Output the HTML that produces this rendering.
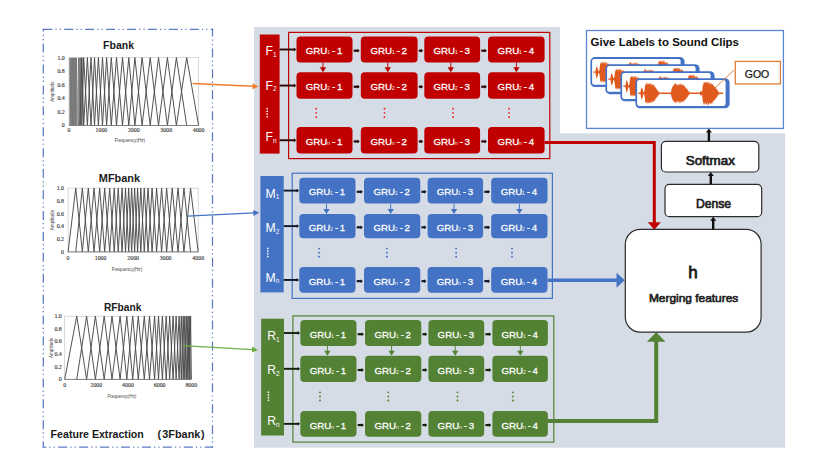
<!DOCTYPE html>
<html><head><meta charset="utf-8"><style>
html,body{margin:0;padding:0;background:#fff;}
svg{display:block;font-family:"Liberation Sans",sans-serif;}
</style></head><body>
<svg width="815" height="463" viewBox="0 0 815 463">
<defs><filter id="bl" x="-5%" y="-5%" width="110%" height="110%"><feGaussianBlur stdDeviation="0.3"/></filter><clipPath id="fbclip"><rect x="69" y="57" width="14" height="69"/></clipPath></defs>
<rect x="0" y="0" width="815" height="463" fill="#ffffff"/>
<line x1="42.7" y1="29.3" x2="213.1" y2="29.3" stroke="#5a7cc4" stroke-width="1.25" stroke-dasharray="9 3.1 1.2 3.1 1.2 3.33" stroke-dashoffset="-0.6"/>
<line x1="212.5" y1="28.7" x2="212.5" y2="447.6" stroke="#5a7cc4" stroke-width="1.25" stroke-dasharray="9 3.1 1.2 3.1 1.2 3.33" stroke-dashoffset="1.2"/>
<line x1="42.7" y1="447" x2="213.1" y2="447" stroke="#5a7cc4" stroke-width="1.25" stroke-dasharray="9 3.1 1.2 3.1 1.2 3.33" stroke-dashoffset="5.4"/>
<line x1="43.3" y1="28.7" x2="43.3" y2="447.6" stroke="#5a7cc4" stroke-width="1.25" stroke-dasharray="9 3.1 1.2 3.1 1.2 3.33" stroke-dashoffset="6.1"/>
<rect x="69.2" y="57.6" width="7.7" height="67.9" fill="#929292"/>
<rect x="78.2" y="57.6" width="3.9" height="67.9" fill="#8e8e8e"/>
<path d="M68.2 125.5L69.6 57.6L71 125.5M69.6 125.5L71 57.6L72.4 125.5M71 125.5L72.4 57.6L73.8 125.5M72.4 125.5L73.8 57.6L75.2 125.5M73.8 125.5L75.2 57.6L76.6 125.5M75.1 125.5L76.5 57.6L77.9 125.5M77 125.5L78.6 57.6L80.2 125.5M78.6 125.5L80.2 57.6L81.8 125.5M80.1 125.5L81.7 57.6L83.3 125.5" fill="none" stroke="#6a6a6a" stroke-width="0.5" filter="url(#bl)" clip-path="url(#fbclip)"/>
<text x="103.1" y="48.6" font-weight="bold" font-size="11.4" fill="#1a1a1a" textLength="30.9" lengthAdjust="spacingAndGlyphs">Fbank</text>
<rect x="69" y="57.6" width="129.6" height="67.9" fill="none" stroke="#c8c8c8" stroke-width="0.7"/>
<path d="M80 125.5L81.8 57.6L83.7 125.5M81.8 125.5L83.7 57.6L87.4 125.5M83.7 125.5L87.4 57.6L91 125.5M87.4 125.5L91 57.6L94.5 125.5M91 125.5L94.5 57.6L98.4 125.5M94.5 125.5L98.4 57.6L102.5 125.5M98.4 125.5L102.5 57.6L106.6 125.5M102.5 125.5L106.6 57.6L111.3 125.5M106.6 125.5L111.3 57.6L116.5 125.5M111.3 125.5L116.5 57.6L122.5 125.5M116.5 125.5L122.5 57.6L128.8 125.5M122.5 125.5L128.8 57.6L134.9 125.5M128.8 125.5L134.9 57.6L142.1 125.5M134.9 125.5L142.1 57.6L150.2 125.5M142.1 125.5L150.2 57.6L158.5 125.5M150.2 125.5L158.5 57.6L167.4 125.5M158.5 125.5L167.4 57.6L176.4 125.5M167.4 125.5L176.4 57.6L186.7 125.5M176.4 125.5L186.7 57.6L198.6 125.5" fill="none" stroke="#4a4a4a" stroke-width="0.95" filter="url(#bl)" stroke-linejoin="miter"/>
<line x1="69" y1="125.5" x2="198.6" y2="125.5" stroke="#777" stroke-width="0.9"/>
<text x="64.8" y="127.4" font-family="Liberation Serif" font-size="5.9" fill="#333" stroke="#333" stroke-width="0.12" text-anchor="end">0</text>
<text x="64.8" y="113.82" font-family="Liberation Serif" font-size="5.9" fill="#333" stroke="#333" stroke-width="0.12" text-anchor="end">0.2</text>
<text x="64.8" y="100.24" font-family="Liberation Serif" font-size="5.9" fill="#333" stroke="#333" stroke-width="0.12" text-anchor="end">0.4</text>
<text x="64.8" y="86.66" font-family="Liberation Serif" font-size="5.9" fill="#333" stroke="#333" stroke-width="0.12" text-anchor="end">0.6</text>
<text x="64.8" y="73.08" font-family="Liberation Serif" font-size="5.9" fill="#333" stroke="#333" stroke-width="0.12" text-anchor="end">0.8</text>
<text x="64.8" y="59.5" font-family="Liberation Serif" font-size="5.9" fill="#333" stroke="#333" stroke-width="0.12" text-anchor="end">1.0</text>
<text x="69" y="132.2" font-family="Liberation Serif" font-size="5.9" fill="#333" stroke="#333" stroke-width="0.12" text-anchor="middle">0</text>
<text x="101.4" y="132.2" font-family="Liberation Serif" font-size="5.9" fill="#333" stroke="#333" stroke-width="0.12" text-anchor="middle">1000</text>
<text x="133.8" y="132.2" font-family="Liberation Serif" font-size="5.9" fill="#333" stroke="#333" stroke-width="0.12" text-anchor="middle">2000</text>
<text x="166.2" y="132.2" font-family="Liberation Serif" font-size="5.9" fill="#333" stroke="#333" stroke-width="0.12" text-anchor="middle">3000</text>
<text x="198.6" y="132.2" font-family="Liberation Serif" font-size="5.9" fill="#333" stroke="#333" stroke-width="0.12" text-anchor="middle">4000</text>
<text x="114.7" y="141.5" font-size="4.6" fill="#444" textLength="30.4" lengthAdjust="spacingAndGlyphs">Frequency(Hz)</text>
<text transform="translate(54.1 91.55) rotate(-90)" font-size="4.6" fill="#444" text-anchor="middle">Amplitude</text>
<text x="98.8" y="181.6" font-weight="bold" font-size="11.4" fill="#1a1a1a" textLength="41.3" lengthAdjust="spacingAndGlyphs">MFbank</text>
<rect x="68.1" y="188.1" width="130.1" height="63.8" fill="none" stroke="#c8c8c8" stroke-width="0.7"/>
<path d="M68.1 251.9L75.75 188.1L82.35 251.9M75.75 251.9L82.35 188.1L88.3 251.9M82.35 251.9L88.3 188.1L94.05 251.9M88.3 251.9L94.05 188.1L99.65 251.9M94.05 251.9L99.65 188.1L104.7 251.9M99.65 251.9L104.7 188.1L109.7 251.9M104.7 251.9L109.7 188.1L114.25 251.9M109.7 251.9L114.25 188.1L118.25 251.9M114.25 251.9L118.25 188.1L122.05 251.9M118.25 251.9L122.05 188.1L125.5 251.9M122.05 251.9L125.5 188.1L128.7 251.9M125.5 251.9L128.7 188.1L131.65 251.9M128.7 251.9L131.65 188.1L134.65 251.9M131.65 251.9L134.65 188.1L137.6 251.9M134.65 251.9L137.6 188.1L140.8 251.9M137.6 251.9L140.8 188.1L144.25 251.9M140.8 251.9L144.25 188.1L148.05 251.9M144.25 251.9L148.05 188.1L152.05 251.9M148.05 251.9L152.05 188.1L156.6 251.9M152.05 251.9L156.6 188.1L161.6 251.9M156.6 251.9L161.6 188.1L166.65 251.9M161.6 251.9L166.65 188.1L172.25 251.9M166.65 251.9L172.25 188.1L178 251.9M172.25 251.9L178 188.1L183.95 251.9M178 251.9L183.95 188.1L190.55 251.9M183.95 251.9L190.55 188.1L198.2 251.9" fill="none" stroke="#4a4a4a" stroke-width="0.95" filter="url(#bl)" stroke-linejoin="miter"/>
<line x1="68.1" y1="251.9" x2="198.2" y2="251.9" stroke="#777" stroke-width="0.9"/>
<text x="64" y="253.8" font-family="Liberation Serif" font-size="5.9" fill="#333" stroke="#333" stroke-width="0.12" text-anchor="end">0</text>
<text x="64" y="241.04" font-family="Liberation Serif" font-size="5.9" fill="#333" stroke="#333" stroke-width="0.12" text-anchor="end">0.2</text>
<text x="64" y="228.28" font-family="Liberation Serif" font-size="5.9" fill="#333" stroke="#333" stroke-width="0.12" text-anchor="end">0.4</text>
<text x="64" y="215.52" font-family="Liberation Serif" font-size="5.9" fill="#333" stroke="#333" stroke-width="0.12" text-anchor="end">0.6</text>
<text x="64" y="202.76" font-family="Liberation Serif" font-size="5.9" fill="#333" stroke="#333" stroke-width="0.12" text-anchor="end">0.8</text>
<text x="64" y="190" font-family="Liberation Serif" font-size="5.9" fill="#333" stroke="#333" stroke-width="0.12" text-anchor="end">1.0</text>
<text x="68.1" y="259.5" font-family="Liberation Serif" font-size="5.9" fill="#333" stroke="#333" stroke-width="0.12" text-anchor="middle">0</text>
<text x="100.62" y="259.5" font-family="Liberation Serif" font-size="5.9" fill="#333" stroke="#333" stroke-width="0.12" text-anchor="middle">1000</text>
<text x="133.15" y="259.5" font-family="Liberation Serif" font-size="5.9" fill="#333" stroke="#333" stroke-width="0.12" text-anchor="middle">2000</text>
<text x="165.67" y="259.5" font-family="Liberation Serif" font-size="5.9" fill="#333" stroke="#333" stroke-width="0.12" text-anchor="middle">3000</text>
<text x="198.2" y="259.5" font-family="Liberation Serif" font-size="5.9" fill="#333" stroke="#333" stroke-width="0.12" text-anchor="middle">4000</text>
<text x="111.7" y="270.7" font-size="4.6" fill="#444" textLength="30.5" lengthAdjust="spacingAndGlyphs">Frequency(Hz)</text>
<text transform="translate(53.6 220) rotate(-90)" font-size="4.6" fill="#444" text-anchor="middle">Amplitude</text>
<text x="104" y="311" font-weight="bold" font-size="11.4" fill="#1a1a1a" textLength="37.4" lengthAdjust="spacingAndGlyphs">RFbank</text>
<rect x="64.7" y="316.2" width="126.6" height="63.2" fill="none" stroke="#c8c8c8" stroke-width="0.7"/>
<path d="M64.7 379.4L76.75 316.2L86.6 379.4M76.75 379.4L86.6 316.2L95.4 379.4M86.6 379.4L95.4 316.2L104.2 379.4M95.4 379.4L104.2 316.2L112 379.4M104.2 379.4L112 316.2L120.1 379.4M112 379.4L120.1 316.2L126.8 379.4M120.1 379.4L126.8 316.2L132.7 379.4M126.8 379.4L132.7 316.2L138.3 379.4M132.7 379.4L138.3 316.2L144.3 379.4M138.3 379.4L144.3 316.2L149.5 379.4M144.3 379.4L149.5 316.2L154.6 379.4M149.5 379.4L154.6 316.2L158.5 379.4M154.6 379.4L158.5 316.2L162.4 379.4M158.5 379.4L162.4 316.2L166.2 379.4M162.4 379.4L166.2 316.2L169.7 379.4M166.2 379.4L169.7 316.2L173.1 379.4M169.7 379.4L173.1 316.2L176.1 379.4M173.1 379.4L176.1 316.2L179.1 379.4M176.1 379.4L179.1 316.2L181.3 379.4M179.1 379.4L181.3 316.2L183.2 379.4M181.3 379.4L183.2 316.2L184.8 379.4M183.2 379.4L184.8 316.2L186.4 379.4M184.8 379.4L186.4 316.2L187.9 379.4M186.4 379.4L187.9 316.2L189.2 379.4M187.9 379.4L189.2 316.2L190.3 379.4M189.2 379.4L190.3 316.2L191.3 379.4" fill="none" stroke="#4a4a4a" stroke-width="0.95" filter="url(#bl)" stroke-linejoin="miter"/>
<line x1="64.7" y1="379.4" x2="191.3" y2="379.4" stroke="#777" stroke-width="0.9"/>
<text x="61.8" y="381.3" font-family="Liberation Serif" font-size="5.9" fill="#333" stroke="#333" stroke-width="0.12" text-anchor="end">0</text>
<text x="61.8" y="368.66" font-family="Liberation Serif" font-size="5.9" fill="#333" stroke="#333" stroke-width="0.12" text-anchor="end">0.2</text>
<text x="61.8" y="356.02" font-family="Liberation Serif" font-size="5.9" fill="#333" stroke="#333" stroke-width="0.12" text-anchor="end">0.4</text>
<text x="61.8" y="343.38" font-family="Liberation Serif" font-size="5.9" fill="#333" stroke="#333" stroke-width="0.12" text-anchor="end">0.6</text>
<text x="61.8" y="330.74" font-family="Liberation Serif" font-size="5.9" fill="#333" stroke="#333" stroke-width="0.12" text-anchor="end">0.8</text>
<text x="61.8" y="318.1" font-family="Liberation Serif" font-size="5.9" fill="#333" stroke="#333" stroke-width="0.12" text-anchor="end">1.0</text>
<text x="64.7" y="387.2" font-family="Liberation Serif" font-size="5.9" fill="#333" stroke="#333" stroke-width="0.12" text-anchor="middle">0</text>
<text x="96.35" y="387.2" font-family="Liberation Serif" font-size="5.9" fill="#333" stroke="#333" stroke-width="0.12" text-anchor="middle">2000</text>
<text x="128" y="387.2" font-family="Liberation Serif" font-size="5.9" fill="#333" stroke="#333" stroke-width="0.12" text-anchor="middle">4000</text>
<text x="159.65" y="387.2" font-family="Liberation Serif" font-size="5.9" fill="#333" stroke="#333" stroke-width="0.12" text-anchor="middle">6000</text>
<text x="191.3" y="387.2" font-family="Liberation Serif" font-size="5.9" fill="#333" stroke="#333" stroke-width="0.12" text-anchor="middle">8000</text>
<text x="107.4" y="398.4" font-size="4.6" fill="#444" textLength="28.9" lengthAdjust="spacingAndGlyphs">Frequency(Hz)</text>
<text transform="translate(53.3 347.8) rotate(-90)" font-size="4.6" fill="#444" text-anchor="middle">Amplitude</text>
<text x="50.6" y="437.6" font-weight="bold" font-size="10.4" fill="#1a1a1a" textLength="93.2" lengthAdjust="spacingAndGlyphs">Feature Extraction</text>
<text x="157.4" y="437.6" font-weight="bold" font-size="10.6" fill="#1a1a1a">(</text>
<text x="162.3" y="437.6" font-weight="bold" font-size="10.6" fill="#1a1a1a" textLength="38" lengthAdjust="spacingAndGlyphs">3Fbank</text>
<text x="200.9" y="437.6" font-weight="bold" font-size="10.6" fill="#1a1a1a">)</text>
<path d="M254 27.1H560V133.2H785.1V447.7H254Z" fill="#d6dce5"/>
<rect x="259.8" y="34.5" width="19.8" height="119.1" fill="#c00000"/>
<rect x="288.6" y="32.4" width="261.2" height="126.2" fill="none" stroke="#c00000" stroke-width="1.2"/>
<text x="265.6" y="55.2" font-size="12.2" fill="#fff">F<tspan font-size="6.5" dy="1.3">1</tspan></text>
<line x1="279.6" y1="49.5" x2="295" y2="49.5" stroke="#2a0505" stroke-width="1.9"/>
<path d="M293.9 47.6L296.3 49.5L293.9 51.4Z" fill="#2a0505"/>
<rect x="296.5" y="36.6" width="56" height="25.8" rx="4" fill="#c00000"/>
<g fill="#fff" stroke="#fff" stroke-width="0.28" font-size="9.7"><text x="305.8" y="54.2">GRU</text><text x="327" y="54.3" font-size="5.6" stroke-width="0" fill-opacity="0.9">1</text><text x="332" y="54.2">-</text><text x="339.6" y="54.2" text-anchor="middle">1</text></g>
<line x1="353.7" y1="50.7" x2="358.4" y2="50.7" stroke="#2a0505" stroke-width="2.2"/>
<path d="M357.4 48.8L359.7 50.7L357.4 52.6Z" fill="#2a0505"/>
<line x1="323" y1="62.4" x2="323" y2="68.3" stroke="#c00000" stroke-width="1"/>
<path d="M319.8 67.3L326.2 67.3L323 72.3Z" fill="#c00000"/>
<rect x="360.8" y="36.6" width="56.8" height="25.8" rx="4" fill="#c00000"/>
<g fill="#fff" stroke="#fff" stroke-width="0.28" font-size="9.7"><text x="370.5" y="54.2">GRU</text><text x="391.7" y="54.3" font-size="5.6" stroke-width="0" fill-opacity="0.9">1</text><text x="396.7" y="54.2">-</text><text x="404.3" y="54.2" text-anchor="middle">2</text></g>
<line x1="418.8" y1="50.7" x2="421.9" y2="50.7" stroke="#2a0505" stroke-width="2.2"/>
<path d="M420.9 48.8L423.2 50.7L420.9 52.6Z" fill="#2a0505"/>
<line x1="387.8" y1="62.4" x2="387.8" y2="68.3" stroke="#c00000" stroke-width="1"/>
<path d="M384.6 67.3L391 67.3L387.8 72.3Z" fill="#c00000"/>
<rect x="424.3" y="36.6" width="55.8" height="25.8" rx="4" fill="#c00000"/>
<g fill="#fff" stroke="#fff" stroke-width="0.28" font-size="9.7"><text x="433.5" y="54.2">GRU</text><text x="454.7" y="54.3" font-size="5.6" stroke-width="0" fill-opacity="0.9">1</text><text x="459.7" y="54.2">-</text><text x="467.3" y="54.2" text-anchor="middle">3</text></g>
<line x1="481.3" y1="50.7" x2="485.6" y2="50.7" stroke="#2a0505" stroke-width="2.2"/>
<path d="M484.6 48.8L486.9 50.7L484.6 52.6Z" fill="#2a0505"/>
<line x1="450.8" y1="62.4" x2="450.8" y2="68.3" stroke="#c00000" stroke-width="1"/>
<path d="M447.6 67.3L454 67.3L450.8 72.3Z" fill="#c00000"/>
<rect x="488.0" y="36.6" width="56.6" height="25.8" rx="4" fill="#c00000"/>
<g fill="#fff" stroke="#fff" stroke-width="0.28" font-size="9.7"><text x="497.6" y="54.2">GRU</text><text x="518.8" y="54.3" font-size="5.6" stroke-width="0" fill-opacity="0.9">1</text><text x="523.8" y="54.2">-</text><text x="531.4" y="54.2" text-anchor="middle">4</text></g>
<line x1="516.4" y1="62.4" x2="516.4" y2="68.3" stroke="#c00000" stroke-width="1"/>
<path d="M513.2 67.3L519.6 67.3L516.4 72.3Z" fill="#c00000"/>
<text x="265.6" y="89.9" font-size="12.2" fill="#fff">F<tspan font-size="6.5" dy="1.3">2</tspan></text>
<line x1="279.6" y1="85.55" x2="295" y2="85.55" stroke="#2a0505" stroke-width="1.9"/>
<path d="M293.9 83.65L296.3 85.55L293.9 87.45Z" fill="#2a0505"/>
<rect x="296.5" y="72.3" width="56" height="26.5" rx="4" fill="#c00000"/>
<g fill="#fff" stroke="#fff" stroke-width="0.28" font-size="9.7"><text x="305.8" y="90.25">GRU</text><text x="327" y="90.35" font-size="5.6" stroke-width="0" fill-opacity="0.9">2</text><text x="332" y="90.25">-</text><text x="339.6" y="90.25" text-anchor="middle">1</text></g>
<line x1="353.7" y1="86.75" x2="358.4" y2="86.75" stroke="#2a0505" stroke-width="2.2"/>
<path d="M357.4 84.85L359.7 86.75L357.4 88.65Z" fill="#2a0505"/>
<circle cx="316.2" cy="108.75" r="0.95" fill="#ee2b2b"/>
<circle cx="316.2" cy="112.85" r="0.95" fill="#ee2b2b"/>
<circle cx="316.2" cy="116.95" r="0.95" fill="#ee2b2b"/>
<rect x="360.8" y="72.3" width="56.8" height="26.5" rx="4" fill="#c00000"/>
<g fill="#fff" stroke="#fff" stroke-width="0.28" font-size="9.7"><text x="370.5" y="90.25">GRU</text><text x="391.7" y="90.35" font-size="5.6" stroke-width="0" fill-opacity="0.9">2</text><text x="396.7" y="90.25">-</text><text x="404.3" y="90.25" text-anchor="middle">2</text></g>
<line x1="418.8" y1="86.75" x2="421.9" y2="86.75" stroke="#2a0505" stroke-width="2.2"/>
<path d="M420.9 84.85L423.2 86.75L420.9 88.65Z" fill="#2a0505"/>
<circle cx="384.5" cy="108.75" r="0.95" fill="#ee2b2b"/>
<circle cx="384.5" cy="112.85" r="0.95" fill="#ee2b2b"/>
<circle cx="384.5" cy="116.95" r="0.95" fill="#ee2b2b"/>
<rect x="424.3" y="72.3" width="55.8" height="26.5" rx="4" fill="#c00000"/>
<g fill="#fff" stroke="#fff" stroke-width="0.28" font-size="9.7"><text x="433.5" y="90.25">GRU</text><text x="454.7" y="90.35" font-size="5.6" stroke-width="0" fill-opacity="0.9">2</text><text x="459.7" y="90.25">-</text><text x="467.3" y="90.25" text-anchor="middle">3</text></g>
<line x1="481.3" y1="86.75" x2="485.6" y2="86.75" stroke="#2a0505" stroke-width="2.2"/>
<path d="M484.6 84.85L486.9 86.75L484.6 88.65Z" fill="#2a0505"/>
<circle cx="453.1" cy="108.75" r="0.95" fill="#ee2b2b"/>
<circle cx="453.1" cy="112.85" r="0.95" fill="#ee2b2b"/>
<circle cx="453.1" cy="116.95" r="0.95" fill="#ee2b2b"/>
<rect x="488.0" y="72.3" width="56.6" height="26.5" rx="4" fill="#c00000"/>
<g fill="#fff" stroke="#fff" stroke-width="0.28" font-size="9.7"><text x="497.6" y="90.25">GRU</text><text x="518.8" y="90.35" font-size="5.6" stroke-width="0" fill-opacity="0.9">2</text><text x="523.8" y="90.25">-</text><text x="531.4" y="90.25" text-anchor="middle">4</text></g>
<circle cx="509.1" cy="108.75" r="0.95" fill="#ee2b2b"/>
<circle cx="509.1" cy="112.85" r="0.95" fill="#ee2b2b"/>
<circle cx="509.1" cy="116.95" r="0.95" fill="#ee2b2b"/>
<text x="265.6" y="141.4" font-size="12.2" fill="#fff">F<tspan font-size="6.5" dy="1.3">n</tspan></text>
<line x1="279.6" y1="140.25" x2="295" y2="140.25" stroke="#2a0505" stroke-width="1.9"/>
<path d="M293.9 138.35L296.3 140.25L293.9 142.15Z" fill="#2a0505"/>
<rect x="296.5" y="126.9" width="56" height="26.7" rx="4" fill="#c00000"/>
<g fill="#fff" stroke="#fff" stroke-width="0.28" font-size="9.7"><text x="305.8" y="144.95">GRU</text><text x="327" y="145.05" font-size="5.6" stroke-width="0" fill-opacity="0.9">n</text><text x="332" y="144.95">-</text><text x="339.6" y="144.95" text-anchor="middle">1</text></g>
<line x1="353.7" y1="141.45" x2="358.4" y2="141.45" stroke="#2a0505" stroke-width="2.2"/>
<path d="M357.4 139.55L359.7 141.45L357.4 143.35Z" fill="#2a0505"/>
<rect x="360.8" y="126.9" width="56.8" height="26.7" rx="4" fill="#c00000"/>
<g fill="#fff" stroke="#fff" stroke-width="0.28" font-size="9.7"><text x="370.5" y="144.95">GRU</text><text x="391.7" y="145.05" font-size="5.6" stroke-width="0" fill-opacity="0.9">n</text><text x="396.7" y="144.95">-</text><text x="404.3" y="144.95" text-anchor="middle">2</text></g>
<line x1="418.8" y1="141.45" x2="421.9" y2="141.45" stroke="#2a0505" stroke-width="2.2"/>
<path d="M420.9 139.55L423.2 141.45L420.9 143.35Z" fill="#2a0505"/>
<rect x="424.3" y="126.9" width="55.8" height="26.7" rx="4" fill="#c00000"/>
<g fill="#fff" stroke="#fff" stroke-width="0.28" font-size="9.7"><text x="433.5" y="144.95">GRU</text><text x="454.7" y="145.05" font-size="5.6" stroke-width="0" fill-opacity="0.9">n</text><text x="459.7" y="144.95">-</text><text x="467.3" y="144.95" text-anchor="middle">3</text></g>
<line x1="481.3" y1="141.45" x2="485.6" y2="141.45" stroke="#2a0505" stroke-width="2.2"/>
<path d="M484.6 139.55L486.9 141.45L484.6 143.35Z" fill="#2a0505"/>
<rect x="488.0" y="126.9" width="56.6" height="26.7" rx="4" fill="#c00000"/>
<g fill="#fff" stroke="#fff" stroke-width="0.28" font-size="9.7"><text x="497.6" y="144.95">GRU</text><text x="518.8" y="145.05" font-size="5.6" stroke-width="0" fill-opacity="0.9">n</text><text x="523.8" y="144.95">-</text><text x="531.4" y="144.95" text-anchor="middle">4</text></g>
<rect x="266.4" y="107.85" width="1.5" height="1.5" fill="#fff"/>
<rect x="266.4" y="110.55" width="1.5" height="1.5" fill="#fff"/>
<rect x="266.4" y="113.25" width="1.5" height="1.5" fill="#fff"/>
<rect x="266.4" y="115.95" width="1.5" height="1.5" fill="#fff"/>
<rect x="260.4" y="176.0" width="23.3" height="116.4" fill="#4472c4"/>
<rect x="292.2" y="173.2" width="260.2" height="125.2" fill="none" stroke="#4472c4" stroke-width="1.2"/>
<text x="265.6" y="197.8" font-size="12.2" fill="#fff">M<tspan font-size="6.5" dy="1.3">1</tspan></text>
<line x1="283.7" y1="190.6" x2="297.8" y2="190.6" stroke="#0d1530" stroke-width="1.9"/>
<path d="M296.7 188.7L299.1 190.6L296.7 192.5Z" fill="#0d1530"/>
<rect x="299.3" y="177.7" width="56.2" height="25.8" rx="4" fill="#4472c4"/>
<g fill="#fff" stroke="#fff" stroke-width="0.28" font-size="9.7"><text x="308.7" y="195.3">GRU</text><text x="329.9" y="195.4" font-size="5.6" stroke-width="0" fill-opacity="0.9">1</text><text x="334.9" y="195.3">-</text><text x="342.5" y="195.3" text-anchor="middle">1</text></g>
<line x1="356.7" y1="191.8" x2="361.6" y2="191.8" stroke="#0d1530" stroke-width="2.2"/>
<path d="M360.6 189.9L362.9 191.8L360.6 193.7Z" fill="#0d1530"/>
<line x1="326.5" y1="203.5" x2="326.5" y2="209.9" stroke="#4472c4" stroke-width="1"/>
<path d="M323.3 208.9L329.7 208.9L326.5 213.9Z" fill="#4472c4"/>
<rect x="364.0" y="177.7" width="56.3" height="25.8" rx="4" fill="#4472c4"/>
<g fill="#fff" stroke="#fff" stroke-width="0.28" font-size="9.7"><text x="373.45" y="195.3">GRU</text><text x="394.65" y="195.4" font-size="5.6" stroke-width="0" fill-opacity="0.9">1</text><text x="399.65" y="195.3">-</text><text x="407.25" y="195.3" text-anchor="middle">2</text></g>
<line x1="421.5" y1="191.8" x2="425.2" y2="191.8" stroke="#0d1530" stroke-width="2.2"/>
<path d="M424.2 189.9L426.5 191.8L424.2 193.7Z" fill="#0d1530"/>
<line x1="390.7" y1="203.5" x2="390.7" y2="209.9" stroke="#4472c4" stroke-width="1"/>
<path d="M387.5 208.9L393.9 208.9L390.7 213.9Z" fill="#4472c4"/>
<rect x="427.6" y="177.7" width="55.5" height="25.8" rx="4" fill="#4472c4"/>
<g fill="#fff" stroke="#fff" stroke-width="0.28" font-size="9.7"><text x="436.65" y="195.3">GRU</text><text x="457.85" y="195.4" font-size="5.6" stroke-width="0" fill-opacity="0.9">1</text><text x="462.85" y="195.3">-</text><text x="470.45" y="195.3" text-anchor="middle">3</text></g>
<line x1="484.3" y1="191.8" x2="488.8" y2="191.8" stroke="#0d1530" stroke-width="2.2"/>
<path d="M487.8 189.9L490.1 191.8L487.8 193.7Z" fill="#0d1530"/>
<line x1="454" y1="203.5" x2="454" y2="209.9" stroke="#4472c4" stroke-width="1"/>
<path d="M450.8 208.9L457.2 208.9L454 213.9Z" fill="#4472c4"/>
<rect x="491.2" y="177.7" width="56.3" height="25.8" rx="4" fill="#4472c4"/>
<g fill="#fff" stroke="#fff" stroke-width="0.28" font-size="9.7"><text x="500.65" y="195.3">GRU</text><text x="521.85" y="195.4" font-size="5.6" stroke-width="0" fill-opacity="0.9">1</text><text x="526.85" y="195.3">-</text><text x="534.45" y="195.3" text-anchor="middle">4</text></g>
<line x1="519.4" y1="203.5" x2="519.4" y2="209.9" stroke="#4472c4" stroke-width="1"/>
<path d="M516.2 208.9L522.6 208.9L519.4 213.9Z" fill="#4472c4"/>
<text x="265.6" y="232.3" font-size="12.2" fill="#fff">M<tspan font-size="6.5" dy="1.3">2</tspan></text>
<line x1="283.7" y1="226.1" x2="297.8" y2="226.1" stroke="#0d1530" stroke-width="1.9"/>
<path d="M296.7 224.2L299.1 226.1L296.7 228Z" fill="#0d1530"/>
<rect x="299.3" y="213.9" width="56.2" height="24.4" rx="4" fill="#4472c4"/>
<g fill="#fff" stroke="#fff" stroke-width="0.28" font-size="9.7"><text x="308.7" y="230.8">GRU</text><text x="329.9" y="230.9" font-size="5.6" stroke-width="0" fill-opacity="0.9">2</text><text x="334.9" y="230.8">-</text><text x="342.5" y="230.8" text-anchor="middle">1</text></g>
<line x1="356.7" y1="227.3" x2="361.6" y2="227.3" stroke="#0d1530" stroke-width="2.2"/>
<path d="M360.6 225.4L362.9 227.3L360.6 229.2Z" fill="#0d1530"/>
<circle cx="319.1" cy="248.6" r="0.95" fill="#4472c4"/>
<circle cx="319.1" cy="252.7" r="0.95" fill="#4472c4"/>
<circle cx="319.1" cy="256.8" r="0.95" fill="#4472c4"/>
<rect x="364.0" y="213.9" width="56.3" height="24.4" rx="4" fill="#4472c4"/>
<g fill="#fff" stroke="#fff" stroke-width="0.28" font-size="9.7"><text x="373.45" y="230.8">GRU</text><text x="394.65" y="230.9" font-size="5.6" stroke-width="0" fill-opacity="0.9">2</text><text x="399.65" y="230.8">-</text><text x="407.25" y="230.8" text-anchor="middle">2</text></g>
<line x1="421.5" y1="227.3" x2="425.2" y2="227.3" stroke="#0d1530" stroke-width="2.2"/>
<path d="M424.2 225.4L426.5 227.3L424.2 229.2Z" fill="#0d1530"/>
<circle cx="386.9" cy="248.6" r="0.95" fill="#4472c4"/>
<circle cx="386.9" cy="252.7" r="0.95" fill="#4472c4"/>
<circle cx="386.9" cy="256.8" r="0.95" fill="#4472c4"/>
<rect x="427.6" y="213.9" width="55.5" height="24.4" rx="4" fill="#4472c4"/>
<g fill="#fff" stroke="#fff" stroke-width="0.28" font-size="9.7"><text x="436.65" y="230.8">GRU</text><text x="457.85" y="230.9" font-size="5.6" stroke-width="0" fill-opacity="0.9">2</text><text x="462.85" y="230.8">-</text><text x="470.45" y="230.8" text-anchor="middle">3</text></g>
<line x1="484.3" y1="227.3" x2="488.8" y2="227.3" stroke="#0d1530" stroke-width="2.2"/>
<path d="M487.8 225.4L490.1 227.3L487.8 229.2Z" fill="#0d1530"/>
<circle cx="456.1" cy="248.6" r="0.95" fill="#4472c4"/>
<circle cx="456.1" cy="252.7" r="0.95" fill="#4472c4"/>
<circle cx="456.1" cy="256.8" r="0.95" fill="#4472c4"/>
<rect x="491.2" y="213.9" width="56.3" height="24.4" rx="4" fill="#4472c4"/>
<g fill="#fff" stroke="#fff" stroke-width="0.28" font-size="9.7"><text x="500.65" y="230.8">GRU</text><text x="521.85" y="230.9" font-size="5.6" stroke-width="0" fill-opacity="0.9">2</text><text x="526.85" y="230.8">-</text><text x="534.45" y="230.8" text-anchor="middle">4</text></g>
<circle cx="512" cy="248.6" r="0.95" fill="#4472c4"/>
<circle cx="512" cy="252.7" r="0.95" fill="#4472c4"/>
<circle cx="512" cy="256.8" r="0.95" fill="#4472c4"/>
<text x="265.6" y="281.7" font-size="12.2" fill="#fff">M<tspan font-size="6.5" dy="1.3">n</tspan></text>
<line x1="283.7" y1="279.95" x2="297.8" y2="279.95" stroke="#0d1530" stroke-width="1.9"/>
<path d="M296.7 278.05L299.1 279.95L296.7 281.85Z" fill="#0d1530"/>
<rect x="299.3" y="267.1" width="56.2" height="25.7" rx="4" fill="#4472c4"/>
<g fill="#fff" stroke="#fff" stroke-width="0.28" font-size="9.7"><text x="308.7" y="284.65">GRU</text><text x="329.9" y="284.75" font-size="5.6" stroke-width="0" fill-opacity="0.9">n</text><text x="334.9" y="284.65">-</text><text x="342.5" y="284.65" text-anchor="middle">1</text></g>
<line x1="356.7" y1="281.15" x2="361.6" y2="281.15" stroke="#0d1530" stroke-width="2.2"/>
<path d="M360.6 279.25L362.9 281.15L360.6 283.05Z" fill="#0d1530"/>
<rect x="364.0" y="267.1" width="56.3" height="25.7" rx="4" fill="#4472c4"/>
<g fill="#fff" stroke="#fff" stroke-width="0.28" font-size="9.7"><text x="373.45" y="284.65">GRU</text><text x="394.65" y="284.75" font-size="5.6" stroke-width="0" fill-opacity="0.9">n</text><text x="399.65" y="284.65">-</text><text x="407.25" y="284.65" text-anchor="middle">2</text></g>
<line x1="421.5" y1="281.15" x2="425.2" y2="281.15" stroke="#0d1530" stroke-width="2.2"/>
<path d="M424.2 279.25L426.5 281.15L424.2 283.05Z" fill="#0d1530"/>
<rect x="427.6" y="267.1" width="55.5" height="25.7" rx="4" fill="#4472c4"/>
<g fill="#fff" stroke="#fff" stroke-width="0.28" font-size="9.7"><text x="436.65" y="284.65">GRU</text><text x="457.85" y="284.75" font-size="5.6" stroke-width="0" fill-opacity="0.9">n</text><text x="462.85" y="284.65">-</text><text x="470.45" y="284.65" text-anchor="middle">3</text></g>
<line x1="484.3" y1="281.15" x2="488.8" y2="281.15" stroke="#0d1530" stroke-width="2.2"/>
<path d="M487.8 279.25L490.1 281.15L487.8 283.05Z" fill="#0d1530"/>
<rect x="491.2" y="267.1" width="56.3" height="25.7" rx="4" fill="#4472c4"/>
<g fill="#fff" stroke="#fff" stroke-width="0.28" font-size="9.7"><text x="500.65" y="284.65">GRU</text><text x="521.85" y="284.75" font-size="5.6" stroke-width="0" fill-opacity="0.9">n</text><text x="526.85" y="284.65">-</text><text x="534.45" y="284.65" text-anchor="middle">4</text></g>
<rect x="267" y="247.7" width="1.5" height="1.5" fill="#fff"/>
<rect x="267" y="250.4" width="1.5" height="1.5" fill="#fff"/>
<rect x="267" y="253.1" width="1.5" height="1.5" fill="#fff"/>
<rect x="267" y="255.8" width="1.5" height="1.5" fill="#fff"/>
<rect x="261.1" y="318.7" width="22.9" height="116.8" fill="#548235"/>
<rect x="292.9" y="315.9" width="260.9" height="126.2" fill="none" stroke="#548235" stroke-width="1.2"/>
<text x="267.2" y="340.2" font-size="12.2" fill="#fff">R<tspan font-size="6.5" dy="1.3">1</tspan></text>
<line x1="284.0" y1="333" x2="298.8" y2="333" stroke="#0f1f08" stroke-width="1.9"/>
<path d="M297.7 331.1L300.1 333L297.7 334.9Z" fill="#0f1f08"/>
<rect x="300.3" y="320.0" width="56.2" height="26" rx="4" fill="#548235"/>
<g fill="#fff" stroke="#fff" stroke-width="0.28" font-size="9.7"><text x="309.7" y="337.7">GRU</text><text x="330.9" y="337.8" font-size="5.6" stroke-width="0" fill-opacity="0.9">1</text><text x="335.9" y="337.7">-</text><text x="343.5" y="337.7" text-anchor="middle">1</text></g>
<line x1="357.7" y1="334.2" x2="362.6" y2="334.2" stroke="#0f1f08" stroke-width="2.2"/>
<path d="M361.6 332.3L363.9 334.2L361.6 336.1Z" fill="#0f1f08"/>
<line x1="327.4" y1="346.0" x2="327.4" y2="351.7" stroke="#548235" stroke-width="1"/>
<path d="M324.2 350.7L330.6 350.7L327.4 355.7Z" fill="#548235"/>
<rect x="365.0" y="320.0" width="56.3" height="26" rx="4" fill="#548235"/>
<g fill="#fff" stroke="#fff" stroke-width="0.28" font-size="9.7"><text x="374.45" y="337.7">GRU</text><text x="395.65" y="337.8" font-size="5.6" stroke-width="0" fill-opacity="0.9">1</text><text x="400.65" y="337.7">-</text><text x="408.25" y="337.7" text-anchor="middle">2</text></g>
<line x1="422.5" y1="334.2" x2="426" y2="334.2" stroke="#0f1f08" stroke-width="2.2"/>
<path d="M425 332.3L427.3 334.2L425 336.1Z" fill="#0f1f08"/>
<line x1="391.6" y1="346.0" x2="391.6" y2="351.7" stroke="#548235" stroke-width="1"/>
<path d="M388.4 350.7L394.8 350.7L391.6 355.7Z" fill="#548235"/>
<rect x="428.4" y="320.0" width="55.8" height="26" rx="4" fill="#548235"/>
<g fill="#fff" stroke="#fff" stroke-width="0.28" font-size="9.7"><text x="437.6" y="337.7">GRU</text><text x="458.8" y="337.8" font-size="5.6" stroke-width="0" fill-opacity="0.9">1</text><text x="463.8" y="337.7">-</text><text x="471.4" y="337.7" text-anchor="middle">3</text></g>
<line x1="485.4" y1="334.2" x2="490" y2="334.2" stroke="#0f1f08" stroke-width="2.2"/>
<path d="M489 332.3L491.3 334.2L489 336.1Z" fill="#0f1f08"/>
<line x1="455.2" y1="346.0" x2="455.2" y2="351.7" stroke="#548235" stroke-width="1"/>
<path d="M452 350.7L458.4 350.7L455.2 355.7Z" fill="#548235"/>
<rect x="492.4" y="320.0" width="55.5" height="26" rx="4" fill="#548235"/>
<g fill="#fff" stroke="#fff" stroke-width="0.28" font-size="9.7"><text x="501.45" y="337.7">GRU</text><text x="522.65" y="337.8" font-size="5.6" stroke-width="0" fill-opacity="0.9">1</text><text x="527.65" y="337.7">-</text><text x="535.25" y="337.7" text-anchor="middle">4</text></g>
<line x1="520.3" y1="346.0" x2="520.3" y2="351.7" stroke="#548235" stroke-width="1"/>
<path d="M517.1 350.7L523.5 350.7L520.3 355.7Z" fill="#548235"/>
<text x="267.2" y="374.2" font-size="12.2" fill="#fff">R<tspan font-size="6.5" dy="1.3">2</tspan></text>
<line x1="284.0" y1="368.8" x2="298.8" y2="368.8" stroke="#0f1f08" stroke-width="1.9"/>
<path d="M297.7 366.9L300.1 368.8L297.7 370.7Z" fill="#0f1f08"/>
<rect x="300.3" y="355.7" width="56.2" height="26.2" rx="4" fill="#548235"/>
<g fill="#fff" stroke="#fff" stroke-width="0.28" font-size="9.7"><text x="309.7" y="373.5">GRU</text><text x="330.9" y="373.6" font-size="5.6" stroke-width="0" fill-opacity="0.9">2</text><text x="335.9" y="373.5">-</text><text x="343.5" y="373.5" text-anchor="middle">1</text></g>
<line x1="357.7" y1="370" x2="362.6" y2="370" stroke="#0f1f08" stroke-width="2.2"/>
<path d="M361.6 368.1L363.9 370L361.6 371.9Z" fill="#0f1f08"/>
<circle cx="320" cy="392.35" r="0.95" fill="#548235"/>
<circle cx="320" cy="396.45" r="0.95" fill="#548235"/>
<circle cx="320" cy="400.55" r="0.95" fill="#548235"/>
<rect x="365.0" y="355.7" width="56.3" height="26.2" rx="4" fill="#548235"/>
<g fill="#fff" stroke="#fff" stroke-width="0.28" font-size="9.7"><text x="374.45" y="373.5">GRU</text><text x="395.65" y="373.6" font-size="5.6" stroke-width="0" fill-opacity="0.9">2</text><text x="400.65" y="373.5">-</text><text x="408.25" y="373.5" text-anchor="middle">2</text></g>
<line x1="422.5" y1="370" x2="426" y2="370" stroke="#0f1f08" stroke-width="2.2"/>
<path d="M425 368.1L427.3 370L425 371.9Z" fill="#0f1f08"/>
<circle cx="388.3" cy="392.35" r="0.95" fill="#548235"/>
<circle cx="388.3" cy="396.45" r="0.95" fill="#548235"/>
<circle cx="388.3" cy="400.55" r="0.95" fill="#548235"/>
<rect x="428.4" y="355.7" width="55.8" height="26.2" rx="4" fill="#548235"/>
<g fill="#fff" stroke="#fff" stroke-width="0.28" font-size="9.7"><text x="437.6" y="373.5">GRU</text><text x="458.8" y="373.6" font-size="5.6" stroke-width="0" fill-opacity="0.9">2</text><text x="463.8" y="373.5">-</text><text x="471.4" y="373.5" text-anchor="middle">3</text></g>
<line x1="485.4" y1="370" x2="490" y2="370" stroke="#0f1f08" stroke-width="2.2"/>
<path d="M489 368.1L491.3 370L489 371.9Z" fill="#0f1f08"/>
<circle cx="457.5" cy="392.35" r="0.95" fill="#548235"/>
<circle cx="457.5" cy="396.45" r="0.95" fill="#548235"/>
<circle cx="457.5" cy="400.55" r="0.95" fill="#548235"/>
<rect x="492.4" y="355.7" width="55.5" height="26.2" rx="4" fill="#548235"/>
<g fill="#fff" stroke="#fff" stroke-width="0.28" font-size="9.7"><text x="501.45" y="373.5">GRU</text><text x="522.65" y="373.6" font-size="5.6" stroke-width="0" fill-opacity="0.9">2</text><text x="527.65" y="373.5">-</text><text x="535.25" y="373.5" text-anchor="middle">4</text></g>
<circle cx="512.9" cy="392.35" r="0.95" fill="#548235"/>
<circle cx="512.9" cy="396.45" r="0.95" fill="#548235"/>
<circle cx="512.9" cy="400.55" r="0.95" fill="#548235"/>
<text x="267.2" y="425.2" font-size="12.2" fill="#fff">R<tspan font-size="6.5" dy="1.3">n</tspan></text>
<line x1="284.0" y1="423.85" x2="298.8" y2="423.85" stroke="#0f1f08" stroke-width="1.9"/>
<path d="M297.7 421.95L300.1 423.85L297.7 425.75Z" fill="#0f1f08"/>
<rect x="300.3" y="411.0" width="56.2" height="25.7" rx="4" fill="#548235"/>
<g fill="#fff" stroke="#fff" stroke-width="0.28" font-size="9.7"><text x="309.7" y="428.55">GRU</text><text x="330.9" y="428.65" font-size="5.6" stroke-width="0" fill-opacity="0.9">n</text><text x="335.9" y="428.55">-</text><text x="343.5" y="428.55" text-anchor="middle">1</text></g>
<line x1="357.7" y1="425.05" x2="362.6" y2="425.05" stroke="#0f1f08" stroke-width="2.2"/>
<path d="M361.6 423.15L363.9 425.05L361.6 426.95Z" fill="#0f1f08"/>
<rect x="365.0" y="411.0" width="56.3" height="25.7" rx="4" fill="#548235"/>
<g fill="#fff" stroke="#fff" stroke-width="0.28" font-size="9.7"><text x="374.45" y="428.55">GRU</text><text x="395.65" y="428.65" font-size="5.6" stroke-width="0" fill-opacity="0.9">n</text><text x="400.65" y="428.55">-</text><text x="408.25" y="428.55" text-anchor="middle">2</text></g>
<line x1="422.5" y1="425.05" x2="426" y2="425.05" stroke="#0f1f08" stroke-width="2.2"/>
<path d="M425 423.15L427.3 425.05L425 426.95Z" fill="#0f1f08"/>
<rect x="428.4" y="411.0" width="55.8" height="25.7" rx="4" fill="#548235"/>
<g fill="#fff" stroke="#fff" stroke-width="0.28" font-size="9.7"><text x="437.6" y="428.55">GRU</text><text x="458.8" y="428.65" font-size="5.6" stroke-width="0" fill-opacity="0.9">n</text><text x="463.8" y="428.55">-</text><text x="471.4" y="428.55" text-anchor="middle">3</text></g>
<line x1="485.4" y1="425.05" x2="490" y2="425.05" stroke="#0f1f08" stroke-width="2.2"/>
<path d="M489 423.15L491.3 425.05L489 426.95Z" fill="#0f1f08"/>
<rect x="492.4" y="411.0" width="55.5" height="25.7" rx="4" fill="#548235"/>
<g fill="#fff" stroke="#fff" stroke-width="0.28" font-size="9.7"><text x="501.45" y="428.55">GRU</text><text x="522.65" y="428.65" font-size="5.6" stroke-width="0" fill-opacity="0.9">n</text><text x="527.65" y="428.55">-</text><text x="535.25" y="428.55" text-anchor="middle">4</text></g>
<rect x="267.7" y="391.45" width="1.5" height="1.5" fill="#fff"/>
<rect x="267.7" y="394.15" width="1.5" height="1.5" fill="#fff"/>
<rect x="267.7" y="396.85" width="1.5" height="1.5" fill="#fff"/>
<rect x="267.7" y="399.55" width="1.5" height="1.5" fill="#fff"/>
<line x1="192.6" y1="83.5" x2="253.01" y2="86.34" stroke="#ed7d31" stroke-width="1.5"/>
<path d="M258.5 86.6L252.37 89.31L252.65 83.32Z" fill="#ed7d31"/>
<line x1="187.4" y1="216.2" x2="253.81" y2="212.97" stroke="#4472c4" stroke-width="1.3"/>
<path d="M259.3 212.7L253.45 215.99L253.16 210Z" fill="#4472c4"/>
<line x1="182.9" y1="345.7" x2="252.51" y2="349.59" stroke="#70ad47" stroke-width="1.3"/>
<path d="M258 349.9L251.84 352.56L252.18 346.57Z" fill="#70ad47"/>
<path d="M544.6 142.5H654.3V223" fill="none" stroke="#c00000" stroke-width="3"/>
<path d="M647.8 222.3H660.8L654.3 229.8Z" fill="#c00000"/>
<path d="M547.5 280.3H617.5" fill="none" stroke="#4472c4" stroke-width="3.4"/>
<path d="M616.5 272.8L624.8 280.3L616.5 287.8Z" fill="#4472c4"/>
<path d="M547.9 421.1H656.2V341" fill="none" stroke="#548235" stroke-width="4"/>
<path d="M646.9 341.8H665.5L656.2 332.2Z" fill="#548235"/>
<rect x="625.3" y="229.4" width="135.8" height="102.7" rx="15" fill="#fff" stroke="#2b2b2b" stroke-width="1.2"/>
<text x="688.2" y="277.8" font-size="17" fill="#1a1a1a" stroke="#1a1a1a" stroke-width="0.8">h</text>
<text x="648.9" y="302.4" font-size="11.6" fill="#1e1e1e" stroke="#1e1e1e" stroke-width="0.65" textLength="89.4" lengthAdjust="spacingAndGlyphs">Merging features</text>
<rect x="665" y="184.4" width="96.7" height="32.3" rx="4.5" fill="#fff" stroke="#2b2b2b" stroke-width="1.2"/>
<text x="695.9" y="208.2" font-size="12.4" fill="#1e1e1e" stroke="#1e1e1e" stroke-width="0.7" textLength="35.1" lengthAdjust="spacingAndGlyphs">Dense</text>
<rect x="661.4" y="141.3" width="97.4" height="30.7" rx="4.5" fill="#fff" stroke="#2b2b2b" stroke-width="1.2"/>
<text x="685.7" y="164.5" font-size="12.6" fill="#1e1e1e" stroke="#1e1e1e" stroke-width="0.7" textLength="49.2" lengthAdjust="spacingAndGlyphs">Softmax</text>
<line x1="713.2" y1="229.4" x2="713.2" y2="219.7" stroke="#111" stroke-width="2.4"/>
<path d="M710.2 220.7L716.2 220.7L713.2 216.7Z" fill="#111"/>
<line x1="710.8" y1="184.4" x2="710.8" y2="175" stroke="#111" stroke-width="2.4"/>
<path d="M707.8 176L713.8 176L710.8 172.0Z" fill="#111"/>
<line x1="708.9" y1="141.3" x2="708.9" y2="131.6" stroke="#111" stroke-width="2.4"/>
<path d="M705.9 132.6L711.9 132.6L708.9 128.6Z" fill="#111"/>
<rect x="586.5" y="30.5" width="196.9" height="97.9" fill="#fff" stroke="#5a86d4" stroke-width="1.3"/>
<text x="590.6" y="46" font-weight="bold" font-size="10.6" fill="#111" textLength="148.4" lengthAdjust="spacingAndGlyphs">Give Labels to Sound Clips</text>
<rect x="590.4" y="57.1" width="94.2" height="30.0" rx="4.5" fill="#4472c4"/><rect x="592.1" y="58.9" width="88.5" height="25.9" rx="2.2" fill="#fff"/><path d="M593.3 71.45H678.1V72.75H593.3Z M595.3 71.34 L595.72 69.64 L596.14 66.92 L596.56 67.15 L596.98 65.91 L597.4 67.89 L597.82 68.45 L598.24 71.03 L598.66 70.98 L599.08 71.27 L599.5 68.84 L599.92 65.67 L600.34 62.37 L600.76 64.15 L601.18 62.01 L601.6 63.18 L602.02 61.1 L602.44 64.4 L602.86 61.03 L603.28 63.95 L603.7 61.55 L604.12 63.02 L604.54 62.03 L604.96 63.71 L605.38 61.39 L605.8 62.87 L606.22 62.11 L606.64 64.9 L607.06 63.13 L607.48 64.05 L607.9 62.38 L608.32 64.58 L608.74 63.27 L609.16 64.83 L609.58 64.36 L610 67 L610.42 65.36 L610.84 66.9 L611.26 66.77 L611.68 68.71 L612.1 68.08 L612.52 69.55 L612.94 69.32 L613.36 70.3 L613.78 70.54 L614.2 71.27 L614.3 71.18 L614.3 73.03 L614.2 73.01 L613.78 73.76 L613.36 74.13 L612.94 74.94 L612.52 75.17 L612.1 76.09 L611.68 75.93 L611.26 77.66 L610.84 76.64 L610.42 79.2 L610 78.14 L609.58 80.07 L609.16 79.55 L608.74 80.76 L608.32 79.44 L607.9 81.02 L607.48 79.78 L607.06 82 L606.64 79.98 L606.22 82.62 L605.8 79.51 L605.38 82.11 L604.96 81.23 L604.54 82.71 L604.12 80.98 L603.7 82.4 L603.28 80.85 L602.86 82.75 L602.44 80.12 L602.02 82.28 L601.6 80.43 L601.18 82.84 L600.76 81.14 L600.34 81.79 L599.92 77.67 L599.5 74.92 L599.08 72.89 L598.66 73.28 L598.24 73.2 L597.82 75.98 L597.4 76.33 L596.98 78.7 L596.56 77.69 L596.14 77.14 L595.72 74.21 L595.3 72.84Z M625.8 71.25 L626.22 70.05 L626.64 67.34 L627.06 67.53 L627.48 65.12 L627.9 65.58 L628.32 64.11 L628.74 64.89 L629.16 61.65 L629.58 64.2 L630 61.94 L630.42 63.32 L630.84 61.5 L631.26 64.26 L631.68 62.58 L632.1 64.85 L632.52 62.3 L632.94 64.18 L633.36 62.6 L633.78 64.74 L634.2 62.65 L634.62 63.75 L635.04 62.39 L635.46 64.34 L635.88 61.57 L636.3 64.21 L636.72 62.83 L637.14 64.54 L637.56 61.8 L637.98 65.25 L638.4 62.81 L638.82 65.05 L639.24 63.87 L639.66 65.39 L640.08 65.22 L640.5 67.26 L640.92 65.98 L641.34 67.84 L641.76 66.86 L642.18 68.25 L642.6 68.09 L643.02 69.7 L643.44 69.52 L643.86 70.66 L644.28 70.69 L644.7 71.32 L644.7 71.16 L644.7 73.04 L644.7 72.79 L644.28 73.61 L643.86 73.65 L643.44 74.55 L643.02 74.7 L642.6 76.06 L642.18 75.9 L641.76 77.47 L641.34 76.23 L640.92 78.45 L640.5 77.76 L640.08 79.1 L639.66 78.54 L639.24 80.9 L638.82 78.23 L638.4 80.85 L637.98 80.8 L637.56 81.39 L637.14 79.51 L636.72 81.39 L636.3 80.03 L635.88 82.86 L635.46 79.36 L635.04 81.96 L634.62 79.48 L634.2 82.88 L633.78 80.01 L633.36 81.84 L632.94 79.41 L632.52 81.83 L632.1 79.36 L631.68 82.45 L631.26 79.96 L630.84 82.58 L630.42 80.64 L630 81.32 L629.58 80.21 L629.16 82.16 L628.74 79.69 L628.32 80.64 L627.9 78.08 L627.48 79.36 L627.06 76.74 L626.64 76.31 L626.22 74.44 L625.8 72.97Z M654.6 71.27 L655.02 71.01 L655.44 70.04 L655.86 69.74 L656.28 69.56 L656.7 70.57 L657.12 70.9 L657.54 66.08 L657.96 62.54 L658.38 64.14 L658.8 60.69 L659.22 61.57 L659.64 60.51 L660.06 62.12 L660.48 60.95 L660.9 61.63 L661.32 60.87 L661.74 61.4 L662.16 60.44 L662.58 63.43 L663 59.24 L663.42 62.55 L663.84 60.49 L664.26 62.05 L664.68 61.08 L665.1 63.64 L665.52 61.32 L665.94 64.09 L666.36 61.42 L666.78 63.28 L667.2 61.75 L667.62 64.14 L668.04 62.64 L668.46 65.09 L668.88 64.37 L669.3 66.35 L669.72 64.53 L670.14 66.91 L670.56 65.8 L670.98 68.08 L671.4 67.36 L671.82 68.44 L672.24 68.44 L672.66 69.47 L673.08 69.75 L673.5 70.77 L673.92 71.11 L674 71.4 L674 72.88 L673.92 73.11 L673.5 73.49 L673.08 74.41 L672.66 74.44 L672.24 75.87 L671.82 75.53 L671.4 76.86 L670.98 76.64 L670.56 78.62 L670.14 77.56 L669.72 79.48 L669.3 78.33 L668.88 80.85 L668.46 78.64 L668.04 80.82 L667.62 80.12 L667.2 83.25 L666.78 81.63 L666.36 82.96 L665.94 81.88 L665.52 83.15 L665.1 81.36 L664.68 83.2 L664.26 80.69 L663.84 84.5 L663.42 82.64 L663 84.37 L662.58 80.48 L662.16 84.13 L661.74 82.01 L661.32 84.58 L660.9 82.33 L660.48 83.29 L660.06 80.74 L659.64 84.68 L659.22 81.24 L658.8 84.36 L658.38 81.42 L657.96 81.27 L657.54 77.94 L657.12 73.41 L656.7 73.69 L656.28 74.5 L655.86 74.62 L655.44 74.17 L655.02 73.2 L654.6 72.86Z" fill="#e05a1e"/>
<rect x="605.4" y="64.15" width="94.2" height="30.0" rx="4.5" fill="#4472c4"/><rect x="607.1" y="65.95" width="88.5" height="25.9" rx="2.2" fill="#fff"/><path d="M608.3 78.5H693.1V79.8H608.3Z M610.3 78.39 L610.72 76.69 L611.14 73.97 L611.56 74.2 L611.98 72.96 L612.4 74.94 L612.82 75.5 L613.24 78.08 L613.66 78.03 L614.08 78.32 L614.5 75.89 L614.92 72.72 L615.34 69.42 L615.76 71.2 L616.18 69.06 L616.6 70.23 L617.02 68.15 L617.44 71.45 L617.86 68.08 L618.28 71 L618.7 68.6 L619.12 70.07 L619.54 69.08 L619.96 70.76 L620.38 68.44 L620.8 69.92 L621.22 69.16 L621.64 71.95 L622.06 70.18 L622.48 71.1 L622.9 69.43 L623.32 71.63 L623.74 70.32 L624.16 71.88 L624.58 71.41 L625 74.05 L625.42 72.41 L625.84 73.95 L626.26 73.82 L626.68 75.76 L627.1 75.13 L627.52 76.6 L627.94 76.37 L628.36 77.35 L628.78 77.59 L629.2 78.32 L629.3 78.23 L629.3 80.08 L629.2 80.06 L628.78 80.81 L628.36 81.18 L627.94 81.99 L627.52 82.22 L627.1 83.14 L626.68 82.98 L626.26 84.71 L625.84 83.69 L625.42 86.25 L625 85.19 L624.58 87.12 L624.16 86.6 L623.74 87.81 L623.32 86.49 L622.9 88.07 L622.48 86.83 L622.06 89.05 L621.64 87.03 L621.22 89.67 L620.8 86.56 L620.38 89.16 L619.96 88.28 L619.54 89.76 L619.12 88.03 L618.7 89.45 L618.28 87.9 L617.86 89.8 L617.44 87.17 L617.02 89.33 L616.6 87.48 L616.18 89.89 L615.76 88.19 L615.34 88.84 L614.92 84.72 L614.5 81.97 L614.08 79.94 L613.66 80.33 L613.24 80.25 L612.82 83.03 L612.4 83.38 L611.98 85.75 L611.56 84.74 L611.14 84.19 L610.72 81.26 L610.3 79.89Z M640.8 78.3 L641.22 77.1 L641.64 74.39 L642.06 74.58 L642.48 72.17 L642.9 72.63 L643.32 71.16 L643.74 71.94 L644.16 68.7 L644.58 71.25 L645 68.99 L645.42 70.37 L645.84 68.55 L646.26 71.31 L646.68 69.63 L647.1 71.9 L647.52 69.35 L647.94 71.23 L648.36 69.65 L648.78 71.79 L649.2 69.7 L649.62 70.8 L650.04 69.44 L650.46 71.39 L650.88 68.62 L651.3 71.26 L651.72 69.88 L652.14 71.59 L652.56 68.85 L652.98 72.3 L653.4 69.86 L653.82 72.1 L654.24 70.92 L654.66 72.44 L655.08 72.27 L655.5 74.31 L655.92 73.03 L656.34 74.89 L656.76 73.91 L657.18 75.3 L657.6 75.14 L658.02 76.75 L658.44 76.57 L658.86 77.71 L659.28 77.74 L659.7 78.37 L659.7 78.21 L659.7 80.09 L659.7 79.84 L659.28 80.66 L658.86 80.7 L658.44 81.6 L658.02 81.75 L657.6 83.11 L657.18 82.95 L656.76 84.52 L656.34 83.28 L655.92 85.5 L655.5 84.81 L655.08 86.15 L654.66 85.59 L654.24 87.95 L653.82 85.28 L653.4 87.9 L652.98 87.85 L652.56 88.44 L652.14 86.56 L651.72 88.44 L651.3 87.08 L650.88 89.91 L650.46 86.41 L650.04 89.01 L649.62 86.53 L649.2 89.93 L648.78 87.06 L648.36 88.89 L647.94 86.46 L647.52 88.88 L647.1 86.41 L646.68 89.5 L646.26 87.01 L645.84 89.63 L645.42 87.69 L645 88.37 L644.58 87.26 L644.16 89.21 L643.74 86.74 L643.32 87.69 L642.9 85.13 L642.48 86.41 L642.06 83.79 L641.64 83.36 L641.22 81.49 L640.8 80.02Z M669.6 78.32 L670.02 78.06 L670.44 77.09 L670.86 76.79 L671.28 76.61 L671.7 77.62 L672.12 77.95 L672.54 73.13 L672.96 69.59 L673.38 71.19 L673.8 67.74 L674.22 68.62 L674.64 67.56 L675.06 69.17 L675.48 68 L675.9 68.68 L676.32 67.92 L676.74 68.45 L677.16 67.49 L677.58 70.48 L678 66.29 L678.42 69.6 L678.84 67.54 L679.26 69.1 L679.68 68.13 L680.1 70.69 L680.52 68.37 L680.94 71.14 L681.36 68.47 L681.78 70.33 L682.2 68.8 L682.62 71.19 L683.04 69.69 L683.46 72.14 L683.88 71.42 L684.3 73.4 L684.72 71.58 L685.14 73.96 L685.56 72.85 L685.98 75.13 L686.4 74.41 L686.82 75.49 L687.24 75.49 L687.66 76.52 L688.08 76.8 L688.5 77.82 L688.92 78.16 L689 78.45 L689 79.93 L688.92 80.16 L688.5 80.54 L688.08 81.46 L687.66 81.49 L687.24 82.92 L686.82 82.58 L686.4 83.91 L685.98 83.69 L685.56 85.67 L685.14 84.61 L684.72 86.53 L684.3 85.38 L683.88 87.9 L683.46 85.69 L683.04 87.87 L682.62 87.17 L682.2 90.3 L681.78 88.68 L681.36 90.01 L680.94 88.93 L680.52 90.2 L680.1 88.41 L679.68 90.25 L679.26 87.74 L678.84 91.55 L678.42 89.69 L678 91.42 L677.58 87.53 L677.16 91.18 L676.74 89.06 L676.32 91.63 L675.9 89.38 L675.48 90.34 L675.06 87.79 L674.64 91.73 L674.22 88.29 L673.8 91.41 L673.38 88.47 L672.96 88.32 L672.54 84.99 L672.12 80.46 L671.7 80.74 L671.28 81.55 L670.86 81.67 L670.44 81.22 L670.02 80.25 L669.6 79.91Z" fill="#e05a1e"/>
<rect x="620.4" y="71.2" width="94.2" height="30.0" rx="4.5" fill="#4472c4"/><rect x="622.1" y="73" width="88.5" height="25.9" rx="2.2" fill="#fff"/><path d="M623.3 85.55H708.1V86.85H623.3Z M625.3 85.44 L625.72 83.74 L626.14 81.02 L626.56 81.25 L626.98 80.01 L627.4 81.99 L627.82 82.55 L628.24 85.13 L628.66 85.08 L629.08 85.37 L629.5 82.94 L629.92 79.77 L630.34 76.47 L630.76 78.25 L631.18 76.11 L631.6 77.28 L632.02 75.2 L632.44 78.5 L632.86 75.13 L633.28 78.05 L633.7 75.65 L634.12 77.12 L634.54 76.13 L634.96 77.81 L635.38 75.49 L635.8 76.97 L636.22 76.21 L636.64 79 L637.06 77.23 L637.48 78.15 L637.9 76.48 L638.32 78.68 L638.74 77.37 L639.16 78.93 L639.58 78.46 L640 81.1 L640.42 79.46 L640.84 81 L641.26 80.87 L641.68 82.81 L642.1 82.18 L642.52 83.65 L642.94 83.42 L643.36 84.4 L643.78 84.64 L644.2 85.37 L644.3 85.28 L644.3 87.13 L644.2 87.11 L643.78 87.86 L643.36 88.23 L642.94 89.04 L642.52 89.27 L642.1 90.19 L641.68 90.03 L641.26 91.76 L640.84 90.74 L640.42 93.3 L640 92.24 L639.58 94.17 L639.16 93.65 L638.74 94.86 L638.32 93.54 L637.9 95.12 L637.48 93.88 L637.06 96.1 L636.64 94.08 L636.22 96.72 L635.8 93.61 L635.38 96.21 L634.96 95.33 L634.54 96.81 L634.12 95.08 L633.7 96.5 L633.28 94.95 L632.86 96.85 L632.44 94.22 L632.02 96.38 L631.6 94.53 L631.18 96.94 L630.76 95.24 L630.34 95.89 L629.92 91.77 L629.5 89.02 L629.08 86.99 L628.66 87.38 L628.24 87.3 L627.82 90.08 L627.4 90.43 L626.98 92.8 L626.56 91.79 L626.14 91.24 L625.72 88.31 L625.3 86.94Z M655.8 85.35 L656.22 84.15 L656.64 81.44 L657.06 81.63 L657.48 79.22 L657.9 79.68 L658.32 78.21 L658.74 78.99 L659.16 75.75 L659.58 78.3 L660 76.04 L660.42 77.42 L660.84 75.6 L661.26 78.36 L661.68 76.68 L662.1 78.95 L662.52 76.4 L662.94 78.28 L663.36 76.7 L663.78 78.84 L664.2 76.75 L664.62 77.85 L665.04 76.49 L665.46 78.44 L665.88 75.67 L666.3 78.31 L666.72 76.93 L667.14 78.64 L667.56 75.9 L667.98 79.35 L668.4 76.91 L668.82 79.15 L669.24 77.97 L669.66 79.49 L670.08 79.32 L670.5 81.36 L670.92 80.08 L671.34 81.94 L671.76 80.96 L672.18 82.35 L672.6 82.19 L673.02 83.8 L673.44 83.62 L673.86 84.76 L674.28 84.79 L674.7 85.42 L674.7 85.26 L674.7 87.14 L674.7 86.89 L674.28 87.71 L673.86 87.75 L673.44 88.65 L673.02 88.8 L672.6 90.16 L672.18 90 L671.76 91.57 L671.34 90.33 L670.92 92.55 L670.5 91.86 L670.08 93.2 L669.66 92.64 L669.24 95 L668.82 92.33 L668.4 94.95 L667.98 94.9 L667.56 95.49 L667.14 93.61 L666.72 95.49 L666.3 94.13 L665.88 96.96 L665.46 93.46 L665.04 96.06 L664.62 93.58 L664.2 96.98 L663.78 94.11 L663.36 95.94 L662.94 93.51 L662.52 95.93 L662.1 93.46 L661.68 96.55 L661.26 94.06 L660.84 96.68 L660.42 94.74 L660 95.42 L659.58 94.31 L659.16 96.26 L658.74 93.79 L658.32 94.74 L657.9 92.18 L657.48 93.46 L657.06 90.84 L656.64 90.41 L656.22 88.54 L655.8 87.07Z M684.6 85.37 L685.02 85.11 L685.44 84.14 L685.86 83.84 L686.28 83.66 L686.7 84.67 L687.12 85 L687.54 80.18 L687.96 76.64 L688.38 78.24 L688.8 74.79 L689.22 75.67 L689.64 74.61 L690.06 76.22 L690.48 75.05 L690.9 75.73 L691.32 74.97 L691.74 75.5 L692.16 74.54 L692.58 77.53 L693 73.34 L693.42 76.65 L693.84 74.59 L694.26 76.15 L694.68 75.18 L695.1 77.74 L695.52 75.42 L695.94 78.19 L696.36 75.52 L696.78 77.38 L697.2 75.85 L697.62 78.24 L698.04 76.74 L698.46 79.19 L698.88 78.47 L699.3 80.45 L699.72 78.63 L700.14 81.01 L700.56 79.9 L700.98 82.18 L701.4 81.46 L701.82 82.54 L702.24 82.54 L702.66 83.57 L703.08 83.85 L703.5 84.87 L703.92 85.21 L704 85.5 L704 86.98 L703.92 87.21 L703.5 87.59 L703.08 88.51 L702.66 88.54 L702.24 89.97 L701.82 89.63 L701.4 90.96 L700.98 90.74 L700.56 92.72 L700.14 91.66 L699.72 93.58 L699.3 92.43 L698.88 94.95 L698.46 92.74 L698.04 94.92 L697.62 94.22 L697.2 97.35 L696.78 95.73 L696.36 97.06 L695.94 95.98 L695.52 97.25 L695.1 95.46 L694.68 97.3 L694.26 94.79 L693.84 98.6 L693.42 96.74 L693 98.47 L692.58 94.58 L692.16 98.23 L691.74 96.11 L691.32 98.68 L690.9 96.43 L690.48 97.39 L690.06 94.84 L689.64 98.78 L689.22 95.34 L688.8 98.46 L688.38 95.52 L687.96 95.37 L687.54 92.04 L687.12 87.51 L686.7 87.79 L686.28 88.6 L685.86 88.72 L685.44 88.27 L685.02 87.3 L684.6 86.96Z" fill="#e05a1e"/>
<rect x="635.4" y="78.25" width="94.2" height="30.0" rx="4.5" fill="#4472c4"/><rect x="637.1" y="80.05" width="88.5" height="25.9" rx="2.2" fill="#fff"/><path d="M638.3 92.6H723.1V93.9H638.3Z M640.3 92.49 L640.72 90.79 L641.14 88.07 L641.56 88.3 L641.98 87.06 L642.4 89.04 L642.82 89.6 L643.24 92.18 L643.66 92.13 L644.08 92.42 L644.5 89.99 L644.92 86.82 L645.34 83.52 L645.76 85.3 L646.18 83.16 L646.6 84.33 L647.02 82.25 L647.44 85.55 L647.86 82.18 L648.28 85.1 L648.7 82.7 L649.12 84.17 L649.54 83.18 L649.96 84.86 L650.38 82.54 L650.8 84.02 L651.22 83.26 L651.64 86.05 L652.06 84.28 L652.48 85.2 L652.9 83.53 L653.32 85.73 L653.74 84.42 L654.16 85.98 L654.58 85.51 L655 88.15 L655.42 86.51 L655.84 88.05 L656.26 87.92 L656.68 89.86 L657.1 89.23 L657.52 90.7 L657.94 90.47 L658.36 91.45 L658.78 91.69 L659.2 92.42 L659.3 92.33 L659.3 94.18 L659.2 94.16 L658.78 94.91 L658.36 95.28 L657.94 96.09 L657.52 96.32 L657.1 97.24 L656.68 97.08 L656.26 98.81 L655.84 97.79 L655.42 100.35 L655 99.29 L654.58 101.22 L654.16 100.7 L653.74 101.91 L653.32 100.59 L652.9 102.17 L652.48 100.93 L652.06 103.15 L651.64 101.13 L651.22 103.77 L650.8 100.66 L650.38 103.26 L649.96 102.38 L649.54 103.86 L649.12 102.13 L648.7 103.55 L648.28 102 L647.86 103.9 L647.44 101.27 L647.02 103.43 L646.6 101.58 L646.18 103.99 L645.76 102.29 L645.34 102.94 L644.92 98.82 L644.5 96.07 L644.08 94.04 L643.66 94.43 L643.24 94.35 L642.82 97.13 L642.4 97.48 L641.98 99.85 L641.56 98.84 L641.14 98.29 L640.72 95.36 L640.3 93.99Z M670.8 92.4 L671.22 91.2 L671.64 88.49 L672.06 88.68 L672.48 86.27 L672.9 86.73 L673.32 85.26 L673.74 86.04 L674.16 82.8 L674.58 85.35 L675 83.09 L675.42 84.47 L675.84 82.65 L676.26 85.41 L676.68 83.73 L677.1 86 L677.52 83.45 L677.94 85.33 L678.36 83.75 L678.78 85.89 L679.2 83.8 L679.62 84.9 L680.04 83.54 L680.46 85.49 L680.88 82.72 L681.3 85.36 L681.72 83.98 L682.14 85.69 L682.56 82.95 L682.98 86.4 L683.4 83.96 L683.82 86.2 L684.24 85.02 L684.66 86.54 L685.08 86.37 L685.5 88.41 L685.92 87.13 L686.34 88.99 L686.76 88.01 L687.18 89.4 L687.6 89.24 L688.02 90.85 L688.44 90.67 L688.86 91.81 L689.28 91.84 L689.7 92.47 L689.7 92.31 L689.7 94.19 L689.7 93.94 L689.28 94.76 L688.86 94.8 L688.44 95.7 L688.02 95.85 L687.6 97.21 L687.18 97.05 L686.76 98.62 L686.34 97.38 L685.92 99.6 L685.5 98.91 L685.08 100.25 L684.66 99.69 L684.24 102.05 L683.82 99.38 L683.4 102 L682.98 101.95 L682.56 102.54 L682.14 100.66 L681.72 102.54 L681.3 101.18 L680.88 104.01 L680.46 100.51 L680.04 103.11 L679.62 100.63 L679.2 104.03 L678.78 101.16 L678.36 102.99 L677.94 100.56 L677.52 102.98 L677.1 100.51 L676.68 103.6 L676.26 101.11 L675.84 103.73 L675.42 101.79 L675 102.47 L674.58 101.36 L674.16 103.31 L673.74 100.84 L673.32 101.79 L672.9 99.23 L672.48 100.51 L672.06 97.89 L671.64 97.46 L671.22 95.59 L670.8 94.12Z M699.6 92.42 L700.02 92.16 L700.44 91.19 L700.86 90.89 L701.28 90.71 L701.7 91.72 L702.12 92.05 L702.54 87.23 L702.96 83.69 L703.38 85.29 L703.8 81.84 L704.22 82.72 L704.64 81.66 L705.06 83.27 L705.48 82.1 L705.9 82.78 L706.32 82.02 L706.74 82.55 L707.16 81.59 L707.58 84.58 L708 80.39 L708.42 83.7 L708.84 81.64 L709.26 83.2 L709.68 82.23 L710.1 84.79 L710.52 82.47 L710.94 85.24 L711.36 82.57 L711.78 84.43 L712.2 82.9 L712.62 85.29 L713.04 83.79 L713.46 86.24 L713.88 85.52 L714.3 87.5 L714.72 85.68 L715.14 88.06 L715.56 86.95 L715.98 89.23 L716.4 88.51 L716.82 89.59 L717.24 89.59 L717.66 90.62 L718.08 90.9 L718.5 91.92 L718.92 92.26 L719 92.55 L719 94.03 L718.92 94.26 L718.5 94.64 L718.08 95.56 L717.66 95.59 L717.24 97.02 L716.82 96.68 L716.4 98.01 L715.98 97.79 L715.56 99.77 L715.14 98.71 L714.72 100.63 L714.3 99.48 L713.88 102 L713.46 99.79 L713.04 101.97 L712.62 101.27 L712.2 104.4 L711.78 102.78 L711.36 104.11 L710.94 103.03 L710.52 104.3 L710.1 102.51 L709.68 104.35 L709.26 101.84 L708.84 105.65 L708.42 103.79 L708 105.52 L707.58 101.63 L707.16 105.28 L706.74 103.16 L706.32 105.73 L705.9 103.48 L705.48 104.44 L705.06 101.89 L704.64 105.83 L704.22 102.39 L703.8 105.51 L703.38 102.57 L702.96 102.42 L702.54 99.09 L702.12 94.56 L701.7 94.84 L701.28 95.65 L700.86 95.77 L700.44 95.32 L700.02 94.35 L699.6 94.01Z" fill="#e05a1e"/>
<line x1="733.8" y1="70.3" x2="714.9" y2="88.1" stroke="#d9702e" stroke-width="0.9"/>
<rect x="735.3" y="61.4" width="45.1" height="22.5" fill="#fff" stroke="#e07b39" stroke-width="1.3"/>
<text x="744.7" y="78.4" font-size="10.6" fill="#1a1a1a" stroke="#1a1a1a" stroke-width="0.25" textLength="24.6" lengthAdjust="spacingAndGlyphs">GOO</text>
</svg>
</body></html>
